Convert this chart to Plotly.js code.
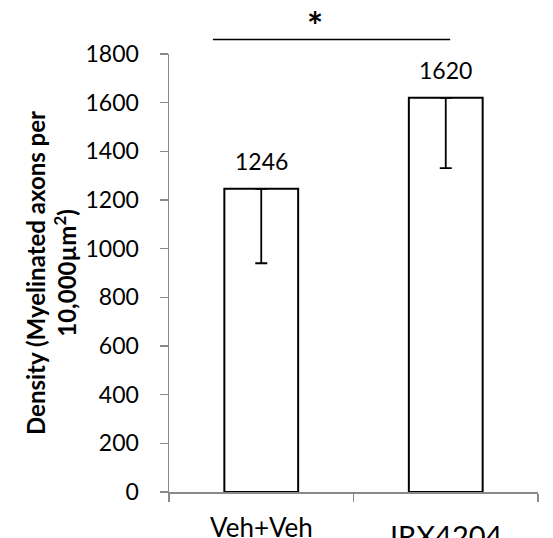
<!DOCTYPE html>
<html>
<head>
<meta charset="utf-8">
<script src="https://cdn.plot.ly/plotly-3.0.1.min.js"></script>
<style>html,body{margin:0;padding:0;background:#fff;}#chart{width:553px;height:538px;}</style>
</head>
<body>
<div id="chart"></div>
<script>
const categories = ["Veh+Veh", "IRX4204"];
const densities = [1246, 1620];
const errorsMinus = [306, 289];
const errorsPlus = [0, 0];
const valueLabels = ["1246", "1620"];
const yTickVals = [0, 200, 400, 600, 800, 1000, 1200, 1400, 1600, 1800];
const categoryLabelSizes = [26, 29];
const categoryLabelShifts = [-17, -24];

const font = "Lato, 'Open Sans', sans-serif";

const trace = {
  type: "bar",
  x: categories,
  y: densities,
  marker: { color: "#ffffff", line: { color: "#000000", width: 2 } },
  error_y: {
    type: "data", symmetric: false,
    array: errorsPlus, arrayminus: errorsMinus,
    color: "#000000", thickness: 1.8, width: 6
  },
  hoverinfo: "none"
};

const annotations = categories.map((c, i) => ({
  x: c, y: densities[i], xref: "x", yref: "y",
  text: valueLabels[i], showarrow: false,
  yanchor: "bottom", yshift: 12,
  font: { family: font, size: 23, color: "#000" }
}));
categories.forEach((c, i) => {
  annotations.push({
    x: c, y: 0, xref: "x", yref: "y",
    text: c, showarrow: false, yanchor: "top",
    yshift: categoryLabelShifts[i],
    font: { family: font, size: categoryLabelSizes[i], color: "#000" }
  });
});
annotations.push({
  x: 0.395, y: 1.067, xref: "paper", yref: "paper",
  text: "<b>*</b>", showarrow: false, yanchor: "middle",
  font: { family: font, size: 38, color: "#000" }
});

const layout = {
  width: 553, height: 538,
  margin: { l: 169, r: 15, t: 54, b: 46 },
  paper_bgcolor: "#fff", plot_bgcolor: "#fff",
  showlegend: false,
  bargap: 0.6,
  font: { family: font, color: "#000", size: 23 },
  xaxis: {
    type: "category", range: [-0.5, 1.5],
    showticklabels: false, tickson: "boundaries",
    ticks: "outside", ticklen: 8, tickcolor: "#898989", tickwidth: 1.5,
    showline: true, linecolor: "#898989", linewidth: 1.5,
    showgrid: false, zeroline: false
  },
  yaxis: {
    range: [0, 1800], tickvals: yTickVals,
    ticks: "outside", ticklen: 8, tickcolor: "#898989", tickwidth: 1.5,
    showline: true, linecolor: "#898989", linewidth: 1.5,
    showgrid: false, zeroline: false,
    ticklabelstandoff: 16,
    tickfont: { family: font, size: 23, color: "#000" },
    title: {
      text: "<b>Density (Myelinated axons per<br>10,000µm<sup>2</sup>)</b>",
      font: { family: font, size: 24, color: "#000" },
      standoff: 2
    }
  },
  shapes: [{
    type: "line", xref: "paper", yref: "paper",
    x0: 0.119, x1: 0.762, y0: 1.033, y1: 1.033,
    line: { color: "#000", width: 1.5 }
  }],
  annotations: annotations
};

Plotly.newPlot("chart", [trace], layout, { displayModeBar: false, staticPlot: true });
</script>
</body>
</html>
